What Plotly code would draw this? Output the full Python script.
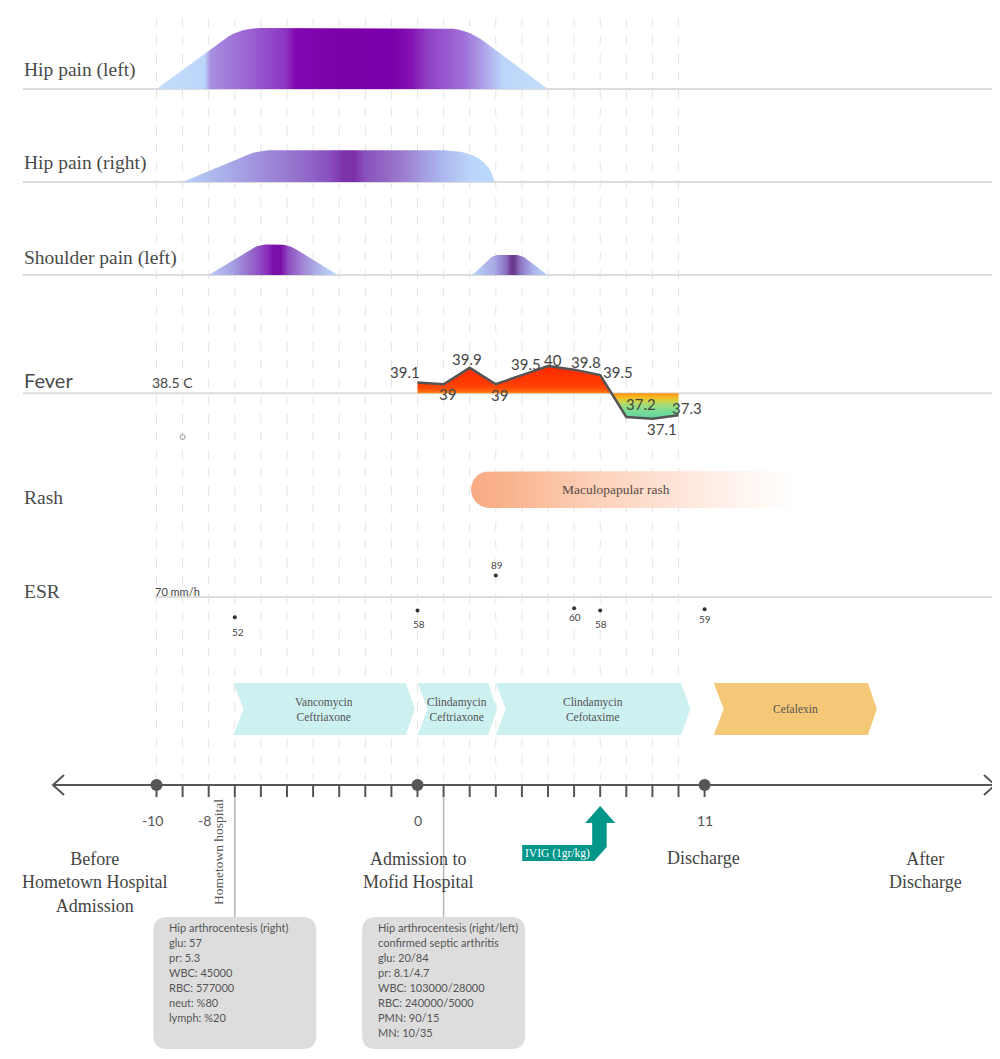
import numpy as np
import plotly.graph_objects as go

W, H = 1000, 1059
OFF = 8       # page body margin of the html page
PX0 = 417.5   # pixel position of day 0
PPD = 26.1    # pixels per day
PPU = 61.0    # pixels per unit of pain intensity

def px2d(p):
    return (p - PX0) / PPD

def py(p):
    return 1 - (p - OFF) / H

def pxp(p):
    return (p - OFF) / W

# ---------------- data ----------------
hip_left_days = [-10, -6.85, 1.85, 5.0]
hip_left_level = [0, 1.0, 1.0, 0]
hip_right_days = [-9, -6.15, 2.6, 2.95]
hip_right_level = [0, 0.52, 0.52, 0]
shoulder1_days = [-8, -6.1, -4.95, -3.05]
shoulder1_level = [0, 0.5, 0.5, 0]
shoulder2_days = [2.1, 2.9, 3.98, 4.98]
shoulder2_level = [0, 0.33, 0.33, 0]

fever_days = [0, 1, 2, 3, 4, 5, 6, 7, 8, 9, 10]
fever_temp = [39.1, 39.0, 39.9, 39.0, 39.5, 40.0, 39.8, 39.5, 37.2, 37.1, 37.3]
fever_threshold = 38.5
hometown_days = [-9]
hometown_temp = [36.1]

rash_start, rash_end = 2.05, 14.5
rash_label = "Maculopapular rash"

esr_days = [-7, 0, 3, 6, 7, 11]
esr_values = [52, 58, 89, 60, 58, 59]
esr_threshold = 70

abx_names = ["Vancomycin<br>Ceftriaxone", "Clindamycin<br>Ceftriaxone",
             "Clindamycin<br>Cefotaxime", "Cefalexin"]
abx_start = [-7.05, 0.0, 3.0, 11.35]
abx_end = [-0.1, 3.05, 10.45, 17.6]
abx_colors = ["#cdf0f0", "#cdf0f0", "#cdf0f0", "#f5c878"]

ivig_day = 7
ivig_label = "IVIG (1gr/kg)"

tick_days = list(range(-10, 12))
key_days = [-10, 0, 11]
tick_label_days = [-10, -8, 0, 11]
tick_label_text = ["-10", "-8", "0", "11"]

box1_day = -7
box1_lines = ["Hip arthrocentesis (right)", "glu: 57", "pr: 5.3", "WBC: 45000",
              "RBC: 577000", "neut: %80", "lymph: %20"]
box2_day = 1
box2_lines = ["Hip arthrocentesis (right/left)", "confirmed septic arthritis", "glu: 20/84",
              "pr: 8.1/4.7", "WBC: 103000/28000", "RBC: 240000/5000", "PMN: 90/15", "MN: 10/35"]

# ---------------- styles ----------------
SERIF = "Liberation Serif"
SANS = "Lato"
GRAY_TXT = "#444444"

def rounded(xs, ys, radii, xs_px, ys_px, n=10):
    X = np.array(xs, float) * xs_px
    Y = np.array(ys, float) * ys_px
    ox, oy = [], []
    for i in range(len(X)):
        r = radii[i]
        if r == 0 or i == 0 or i == len(X) - 1:
            ox.append(X[i]); oy.append(Y[i]); continue
        c = np.array([X[i], Y[i]])
        a = np.array([X[i - 1], Y[i - 1]]) - c
        b = np.array([X[i + 1], Y[i + 1]]) - c
        ta = min(r / np.hypot(*a), 0.9)
        tb = min(r / np.hypot(*b), 0.9)
        p1 = c + a * ta
        p2 = c + b * tb
        for t in np.linspace(0, 1, n):
            p = (1 - t) ** 2 * p1 + 2 * (1 - t) * t * c + t ** 2 * p2
            ox.append(p[0]); oy.append(p[1])
    return np.array(ox) / xs_px, np.array(oy) / ys_px

def yax(base_px, base_val, ppu, lo, hi):
    return dict(domain=[py(base_px + (base_val - lo) * ppu), py(base_px - (hi - base_val) * ppu)],
                range=[lo, hi], visible=False, anchor="x", fixedrange=True)

fig = go.Figure()

# pain rows
pain_specs = [
    (hip_left_days, hip_left_level, [0, 22, 22, 0], "y2",
     [[0, "#c4ddfc"], [0.123, "#bcd6fa"], [0.138, "#a88ee0"], [0.238, "#9a62d2"], [0.33, "#8c34c2"],
      [0.355, "#8208b2"], [0.468, "#7a00a8"], [0.604, "#7c00aa"], [0.65, "#8412b2"],
      [0.693, "#9040c4"], [0.785, "#a070d8"], [0.841, "#b0a8ea"], [0.885, "#bcd6fa"], [1, "#c4defc"]]),
    (hip_right_days, hip_right_level, [0, 16, 42, 0], "y3",
     [[0, "#b8d0f8"], [0.116, "#acb4ec"], [0.245, "#a090dc"], [0.373, "#9470cc"], [0.47, "#8a50c0"],
      [0.518, "#7c30aa"], [0.55, "#7c30aa"], [0.583, "#8a50bc"], [0.695, "#9a78cc"],
      [0.824, "#aab4ec"], [0.92, "#bad4fa"], [1, "#bcd8fc"]]),
    (shoulder1_days, shoulder1_level, [0, 10, 10, 0], "y4",
     [[0, "#b8cef6"], [0.2, "#a49ae0"], [0.35, "#9460c8"], [0.45, "#8a30bc"], [0.5, "#7a10a8"],
      [0.56, "#7a10a8"], [0.62, "#9050c0"], [0.75, "#a48ed8"], [0.9, "#b4c4f0"], [1, "#bcd8fc"]]),
    (shoulder2_days, shoulder2_level, [0, 7, 7, 0], "y4",
     [[0, "#bcd4f8"], [0.3, "#a8a8e6"], [0.45, "#8a70c0"], [0.52, "#6a3c90"], [0.56, "#6a3c90"],
      [0.63, "#8a70c0"], [0.8, "#a8b0ea"], [1, "#bcd8fc"]]),
]
for days, lev, radii, ax, cs in pain_specs:
    rx, ry = rounded(days, lev, radii, PPD, PPU)
    fig.add_trace(go.Scatter(x=rx, y=ry, yaxis=ax, mode="lines", line=dict(width=0),
                             fill="toself", fillgradient=dict(type="horizontal", colorscale=cs),
                             hoverinfo="skip", showlegend=False))

# fever
fig.add_trace(go.Scatter(x=[fever_days[0], fever_days[-1]], y=[fever_threshold] * 2, yaxis="y5",
                         mode="lines", line=dict(width=0), hoverinfo="skip", showlegend=False))
fig.add_trace(go.Scatter(
    x=fever_days, y=fever_temp, yaxis="y5", mode="lines", line=dict(color="#555555", width=2.5),
    fill="tonexty",
    fillgradient=dict(type="vertical", start=37.0, stop=40.0,
                      colorscale=[[0, "#50d0a8"], [0.067, "#62d4a0"], [0.2, "#80dc90"],
                                  [0.3, "#a8dc70"], [0.367, "#d8d040"], [0.433, "#f8b820"],
                                  [0.5, "#ff9010"], [0.53, "#ff6a10"], [0.6, "#ff4a05"],
                                  [0.7, "#ff3a00"], [1, "#ff2800"]]),
    hoverinfo="skip", showlegend=False))
fig.add_trace(go.Scatter(x=hometown_days, y=hometown_temp, yaxis="y5", mode="markers",
                         marker=dict(symbol="circle-open", size=5, color="#999999", line=dict(width=1)),
                         hoverinfo="skip", showlegend=False))
fever_shift = [(-13, 10), (4, -10), (-3, 9), (4, -11), (4, 11), (5, 6), (12, 8),
               (18, 3), (15, 13), (10, -10), (8, 7)]
annotations = []
for d, t, (dx, dy) in zip(fever_days, fever_temp, fever_shift):
    annotations.append(dict(x=d, y=t, xref="x", yref="y5", text=f"{t:g}", showarrow=False,
                            xanchor="center", yanchor="middle",
                            xshift=dx, yshift=dy, font=dict(family=SANS, size=15, color=GRAY_TXT)))

# ESR
fig.add_trace(go.Scatter(x=esr_days, y=esr_values, yaxis="y6", mode="markers",
                         marker=dict(size=4, color="#333333"), hoverinfo="skip", showlegend=False))
esr_shift = [(3, -15), (1, -13), (1, 11), (1, -9), (1, -13), (0, -10)]
for d, v, (dx, dy) in zip(esr_days, esr_values, esr_shift):
    annotations.append(dict(x=d, y=v, xref="x", yref="y6", text=str(v), showarrow=False,
                            xanchor="center", yanchor="middle",
                            xshift=dx, yshift=dy, font=dict(family=SANS, size=10, color=GRAY_TXT)))

# rash bar with rounded left end
r_px = 18.5
rash_mid = 489.5
cx = rash_start + r_px / PPD
ang = np.linspace(-np.pi / 2, np.pi / 2, 25)
rash_x = [rash_end, cx] + list(cx - r_px * np.cos(ang) / PPD) + [cx, rash_end]
rash_y = [rash_mid - r_px, rash_mid - r_px] + list(rash_mid + r_px * np.sin(ang)) + \
         [rash_mid + r_px, rash_mid + r_px]
fig.add_trace(go.Scatter(x=rash_x, y=rash_y, mode="lines", line=dict(width=0), fill="toself",
                         fillgradient=dict(type="horizontal",
                                           colorscale=[[0, "#f8ab84"], [0.1, "#f9b28c"], [0.4, "#fcd2bb"],
                                                       [0.65, "#fee6da"], [0.85, "#fff6f1"], [1, "#ffffff"]]),
                         hoverinfo="skip", showlegend=False))
annotations.append(dict(x=px2d(616), y=rash_mid, xref="x", yref="y", text=rash_label, showarrow=False,
                        xanchor="center", yanchor="middle",
                        font=dict(family=SERIF, size=13.5, color="#5a4a42")))

# antibiotic chevrons
ab_top, ab_bot = 683, 735
ab_mid = (ab_top + ab_bot) / 2
notch = 10 / PPD
tip = 9 / PPD
for name, s, e, col in zip(abx_names, abx_start, abx_end, abx_colors):
    fig.add_trace(go.Scatter(x=[s, e - tip, e, e - tip, s, s + notch, s],
                             y=[ab_top, ab_top, ab_mid, ab_bot, ab_bot, ab_mid, ab_top],
                             mode="lines", line=dict(width=0), fill="toself", fillcolor=col,
                             hoverinfo="skip", showlegend=False))
    annotations.append(dict(x=(s + e) / 2, y=ab_mid, xref="x", yref="y", text=name, showarrow=False,
                            xanchor="center", yanchor="middle",
                            font=dict(family=SERIF, size=11.5, color="#555555")))

# IVIG arrow
ivig_off = [(0, 806), (15, 823), (6.5, 823), (6.5, 847), (-6, 861), (-78, 861), (-78, 845),
            (-8, 845), (-8, 823), (-15, 823), (0, 806)]
fig.add_trace(go.Scatter(x=[ivig_day + dx / PPD for dx, _ in ivig_off], y=[yy for _, yy in ivig_off],
                         mode="lines", line=dict(width=0), fill="toself", fillcolor="#00968a",
                         hoverinfo="skip", showlegend=False))
annotations.append(dict(x=ivig_day - 43 / PPD, y=853, xref="x", yref="y", text=ivig_label,
                        xanchor="center", yanchor="middle",
                        showarrow=False, font=dict(family=SERIF, size=11.5, color="white")))

# ---------------- shapes ----------------
shapes = []
for d in range(-10, 11):
    shapes.append(dict(type="line", xref="x", yref="y", x0=d, x1=d, y0=0, y1=780, layer="below",
                       line=dict(color="#e4e4e4", width=1, dash="dash")))
for yb, x0 in [(89, 23), (182, 23), (275, 23), (393.3, 23), (597, 155)]:
    shapes.append(dict(type="line", xref="x", yref="y", x0=px2d(x0), x1=px2d(995), y0=yb, y1=yb,
                       layer="below", line=dict(color="#dcdcdc", width=2)))
# timeline
AX_Y = 785
AXC = "#555555"
shapes.append(dict(type="line", xref="x", yref="y", x0=px2d(53), x1=px2d(995), y0=AX_Y, y1=AX_Y,
                   line=dict(color=AXC, width=2)))
shapes.append(dict(type="path", xref="x", yref="y",
                   path=f"M {px2d(64)},{AX_Y-10} L {px2d(53)},{AX_Y} L {px2d(64)},{AX_Y+10}",
                   line=dict(color=AXC, width=2)))
shapes.append(dict(type="path", xref="x", yref="y",
                   path=f"M {px2d(984)},{AX_Y-10} L {px2d(995)},{AX_Y} L {px2d(984)},{AX_Y+10}",
                   line=dict(color=AXC, width=2)))
for d in tick_days:
    shapes.append(dict(type="line", xref="x", yref="y", x0=d, x1=d, y0=AX_Y, y1=AX_Y + 12,
                       line=dict(color=AXC, width=2)))
for d in key_days:
    rr = 6 / PPD
    shapes.append(dict(type="circle", xref="x", yref="y", x0=d - rr, x1=d + rr, y0=AX_Y - 6, y1=AX_Y + 6,
                       fillcolor=AXC, line=dict(color=AXC, width=0)))
# connectors and boxes
BOX_TOP, BOX_BOT, BOX_W, BR = 917, 1049, 163, 14
for bd in [box1_day, box2_day]:
    shapes.append(dict(type="line", xref="x", yref="y", x0=bd, x1=bd, y0=AX_Y + 12, y1=BOX_TOP,
                       layer="below", line=dict(color="#b5b5b5", width=1.5)))
    cxp = PX0 + PPD * bd
    l, r = cxp - BOX_W / 2, cxp + BOX_W / 2
    t, b = BOX_TOP, BOX_BOT
    X = px2d
    path = (f"M {X(l+BR)},{t} L {X(r-BR)},{t} Q {X(r)},{t} {X(r)},{t+BR} L {X(r)},{b-BR} "
            f"Q {X(r)},{b} {X(r-BR)},{b} L {X(l+BR)},{b} Q {X(l)},{b} {X(l)},{b-BR} "
            f"L {X(l)},{t+BR} Q {X(l)},{t} {X(l+BR)},{t} Z")
    shapes.append(dict(type="path", xref="x", yref="y", path=path, fillcolor="#dddddd",
                       line=dict(width=0), layer="below"))

# box texts
for bd, lines in [(box1_day, box1_lines), (box2_day, box2_lines)]:
    lx = PX0 + PPD * bd - BOX_W / 2 + 14
    for i, ln in enumerate(lines):
        annotations.append(dict(x=pxp(lx), y=py(927.5 + 15 * i), xref="paper", yref="paper", text=ln,
                                showarrow=False, xanchor="left", yanchor="middle",
                                font=dict(family=SANS, size=11, color="#555555")))

# row labels
for txt, yy, fam, sz in [("Hip pain (left)", 70, SERIF, 19.5), ("Hip pain (right)", 163, SERIF, 19.5),
                         ("Shoulder pain (left)", 258, SERIF, 19.5), ("Fever", 380, SANS, 20),
                         ("Rash", 497, SERIF, 19.5), ("ESR", 591, SERIF, 19.5)]:
    annotations.append(dict(x=pxp(22), y=py(yy), xref="paper", yref="paper", text=txt, showarrow=False,
                            xanchor="left", yanchor="middle", font=dict(family=fam, size=sz, color="#4a4a4a")))
annotations.append(dict(x=pxp(172.5), y=py(383), xref="paper", yref="paper", text=f"{fever_threshold:g} C",
                        xanchor="center", yanchor="middle",
                        showarrow=False, font=dict(family=SANS, size=14, color=GRAY_TXT)))
annotations.append(dict(x=pxp(177), y=py(591), xref="paper", yref="paper", text=f"{esr_threshold} mm/h",
                        xanchor="center", yanchor="middle",
                        showarrow=False, font=dict(family=SANS, size=11, color=GRAY_TXT)))

# tick labels
for d, lab in zip(tick_label_days, tick_label_text):
    annotations.append(dict(x=d, y=820, xref="x", yref="y", text=lab, showarrow=False,
                            xanchor="center", yanchor="middle",
                            xshift=-4 if lab.startswith("-") else 0,
                            font=dict(family=SANS, size=14, color="#555555")))

# category labels
for txt, xx, yy in [("Before<br>Hometown Hospital<br>Admission", 95, 882),
                    ("Admission to<br>Mofid Hospital", 418, 870),
                    ("Discharge", 703, 858),
                    ("After<br>Discharge", 925, 870)]:
    annotations.append(dict(x=pxp(xx), y=py(yy), xref="paper", yref="paper", text=txt, showarrow=False,
                            xanchor="center", yanchor="middle",
                            align="center", font=dict(family=SERIF, size=18, color="#444444")))
annotations.append(dict(x=pxp(218), y=py(852), xref="paper", yref="paper", text="Hometown hospital",
                        xanchor="center", yanchor="middle",
                        showarrow=False, textangle=-90, font=dict(family=SERIF, size=13.5, color="#555555")))

fig.update_layout(
    width=W, height=H, margin=dict(l=0, r=0, t=0, b=0),
    paper_bgcolor="white", plot_bgcolor="rgba(0,0,0,0)",
    xaxis=dict(range=[px2d(OFF), px2d(W + OFF)], visible=False, fixedrange=True),
    yaxis=dict(range=[H + OFF, OFF], visible=False, fixedrange=True, domain=[0, 1]),
    yaxis2=yax(89, 0, PPU, -0.2, 1.2),
    yaxis3=yax(182, 0, PPU, -0.2, 1.2),
    yaxis4=yax(275, 0, PPU, -0.2, 1.2),
    yaxis5=yax(393.3, fever_threshold, 18.2, 35.5, 41.5),
    yaxis6=yax(597, esr_threshold, 1.125, 30, 110),
    shapes=shapes, annotations=annotations, showlegend=False,
)

fig.write_html("out.html")
